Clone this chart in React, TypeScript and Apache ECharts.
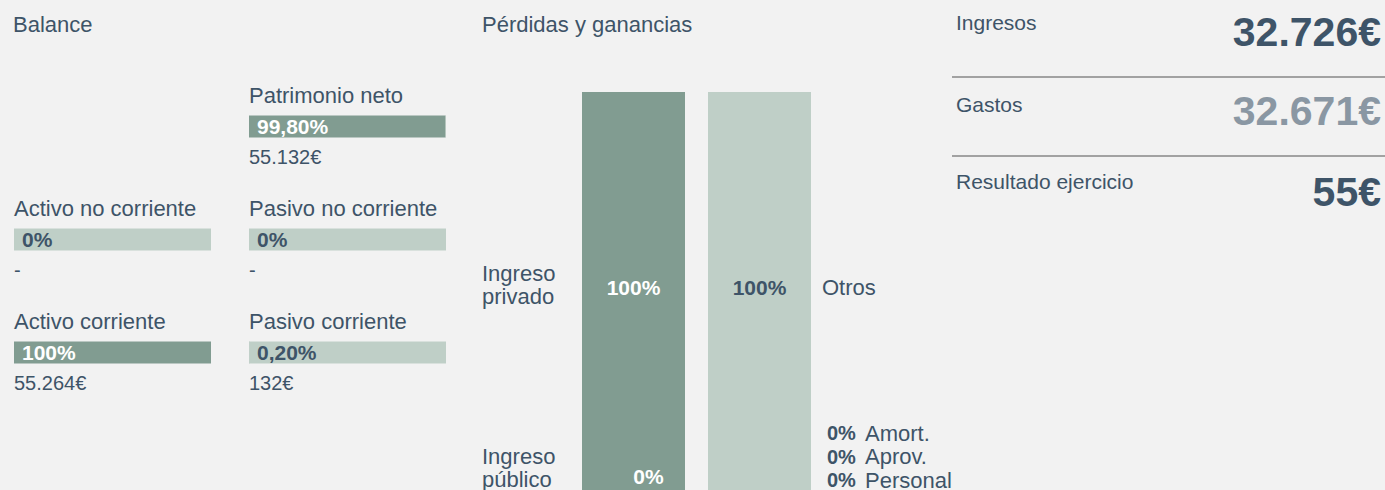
import React, { useEffect, useRef } from "react";
import * as echarts from "echarts";

// ---------- data ----------
const balanceLeftNames = ["", "Activo no corriente", "Activo corriente"];
const balanceLeftPct: (number | null)[] = [null, 0, 100];
const balanceLeftAmount: (number | null)[] = [null, null, 55264];
const balanceRightNames = ["Patrimonio neto", "Pasivo no corriente", "Pasivo corriente"];
const balanceRightPct: (number | null)[] = [99.8, 0, 0.2];
const balanceRightAmount: (number | null)[] = [55132, null, 132];
const balanceRowKeys = ["r0", "r1", "r2"];

const plCategories = ["Ingresos", "Gastos"];
const incomeNames = ["Ingreso\nprivado", "Ingreso\npúblico"];
const incomePct = [100, 0];
const expenseNames = ["Otros", "Amort.", "Aprov.", "Personal"];
const expensePct = [100, 0, 0, 0];

const summaryLabels = ["Ingresos", "Gastos", "Resultado ejercicio"];
const summaryValues = [32726, 32671, 55];

// ---------- styles ----------
const BG = "#f2f2f2";
const DARK = "#819c91";
const LIGHT = "#bfcfc7";
const TEXT = "#3e5468";
const MUTED = "#8a97a3";
const FONT = '"Liberation Sans", Arial, sans-serif';

const fmtPct = (v: number) =>
  Number.isInteger(v) ? `${v}%` : v.toFixed(2).replace(".", ",") + "%";
const fmtEur = (v: number | null) =>
  v == null ? "-" : String(v).replace(/\B(?=(\d{3})+(?!\d))/g, ".") + "€";

function balanceSeries(gi: number, names: string[], pcts: (number | null)[], amounts: (number | null)[]) {
  const common = {
    type: "bar",
    xAxisIndex: gi,
    yAxisIndex: gi,
    barWidth: 22,
    barGap: "-100%",
    silent: true,
  };
  const full = pcts.map((p, i) => (names[i] ? 100 : "-"));
  const transparent = { color: "rgba(0,0,0,0)" };
  return [
    {
      ...common,
      stack: "s" + gi,
      itemStyle: { color: DARK },
      data: pcts.map((p) => (p == null ? "-" : p)),
    },
    {
      ...common,
      stack: "s" + gi,
      itemStyle: { color: LIGHT },
      data: pcts.map((p) => (p == null ? "-" : 100 - p)),
    },
    {
      ...common,
      stack: "p" + gi,
      itemStyle: transparent,
      data: full.map((v, i) =>
        v === "-"
          ? "-"
          : {
              value: v,
              label: {
                show: true,
                formatter: fmtPct(pcts[i] as number),
                color: (pcts[i] as number) >= 50 ? "#ffffff" : TEXT,
              },
            }
      ),
      label: {
        position: [8, 11],
        align: "left",
        verticalAlign: "middle",
        fontFamily: FONT,
        fontSize: 21,
        fontWeight: "bold",
      },
    },
    {
      ...common,
      stack: "n" + gi,
      itemStyle: transparent,
      data: full.map((v, i) =>
        v === "-" ? "-" : { value: v, label: { show: true, formatter: names[i] } }
      ),
      label: {
        position: [0, -20],
        align: "left",
        verticalAlign: "middle",
        fontFamily: FONT,
        fontSize: 22,
        color: TEXT,
      },
    },
    {
      ...common,
      stack: "a" + gi,
      itemStyle: transparent,
      data: full.map((v, i) =>
        v === "-" ? "-" : { value: v, label: { show: true, formatter: fmtEur(amounts[i]) } }
      ),
      label: {
        position: [0, 41],
        align: "left",
        verticalAlign: "middle",
        fontFamily: FONT,
        fontSize: 20,
        color: TEXT,
      },
    },
  ];
}

export default function App() {
  const ref = useRef<HTMLDivElement>(null);

  useEffect(() => {
    document.body.style.margin = "0";
    document.body.style.background = BG;
    if (!ref.current) return;
    const chart = echarts.init(ref.current, undefined, { renderer: "svg" });

    const plBar = {
      type: "bar",
      xAxisIndex: 2,
      yAxisIndex: 2,
      stack: "pl",
      barWidth: 103,
      silent: true,
    };
    const bigLabel = {
      fontFamily: FONT,
      fontSize: 21,
      fontWeight: "bold",
    };

    const plSeries = [
      {
        ...plBar,
        name: incomeNames[1],
        itemStyle: { color: DARK },
        data: [incomePct[1], "-"],
        label: {
          show: true,
          position: "insideBottom",
          offset: [15, 2],
          formatter: fmtPct(incomePct[1]),
          color: "#ffffff",
          ...bigLabel,
        },
      },
      {
        ...plBar,
        name: incomeNames[0],
        itemStyle: { color: DARK },
        data: [incomePct[0], "-"],
        label: {
          show: true,
          position: "inside",
          offset: [0, -4],
          formatter: fmtPct(incomePct[0]),
          color: "#ffffff",
          ...bigLabel,
        },
      },
      ...expenseNames.slice(1).map((n, k) => ({
        ...plBar,
        name: n,
        itemStyle: { color: LIGHT },
        data: ["-", expensePct[k + 1]],
      })),
      {
        ...plBar,
        name: expenseNames[0],
        itemStyle: { color: LIGHT },
        data: ["-", expensePct[0]],
        label: {
          show: true,
          position: "inside",
          offset: [0, -4],
          formatter: fmtPct(expensePct[0]),
          color: TEXT,
          ...bigLabel,
        },
      },
    ];

    const txt = (text: string, x: number, y: number, extra: any = {}) => ({
      type: "text",
      x,
      y,
      silent: true,
      style: {
        text,
        fill: TEXT,
        fontFamily: FONT,
        fontSize: 22,
        align: "left",
        verticalAlign: "middle",
        ...extra,
      },
    });

    const graphics: any[] = [
      txt("Balance", 13, 24),
      txt("Pérdidas y ganancias", 482, 24),
      txt(incomeNames[0], 482, 285, { lineHeight: 23 }),
      txt(incomeNames[1], 482, 468, { lineHeight: 23 }),
      txt(expenseNames[0], 822, 287),
    ];
    expenseNames.slice(1).forEach((n, k) => {
      const y = 433 + k * 23.5;
      graphics.push(txt(fmtPct(expensePct[k + 1]), 827, y, { fontSize: 20, fontWeight: "bold" }));
      graphics.push(txt(n, 865, y));
    });

    const labelY = [22.5, 104.5, 181.5];
    const valueY = [31.5, 110.5, 192];
    summaryLabels.forEach((l, i) => {
      graphics.push(txt(l, 956, labelY[i], { fontSize: 21 }));
      graphics.push(
        txt(fmtEur(summaryValues[i]), 1381, valueY[i], {
          fontSize: 41,
          fontWeight: "bold",
          align: "right",
          fill: i === 1 ? MUTED : TEXT,
        })
      );
    });
    [77, 156].forEach((y) =>
      graphics.push({
        type: "line",
        silent: true,
        shape: { x1: 952, y1: y, x2: 1385, y2: y },
        style: { stroke: "#525252", lineWidth: 1 },
      })
    );

    chart.setOption({
      animation: false,
      backgroundColor: BG,
      grid: [
        { left: 14, width: 197, top: 70, height: 339 },
        { left: 249, width: 197, top: 70, height: 339 },
        { left: 570.5, width: 252, top: 92, height: 408 },
      ],
      xAxis: [
        { type: "value", gridIndex: 0, min: 0, max: 100, show: false },
        { type: "value", gridIndex: 1, min: 0, max: 100, show: false },
        { type: "category", gridIndex: 2, data: plCategories, show: false },
      ],
      yAxis: [
        { type: "category", gridIndex: 0, data: balanceRowKeys, inverse: true, show: false },
        { type: "category", gridIndex: 1, data: balanceRowKeys, inverse: true, show: false },
        { type: "value", gridIndex: 2, min: 0, max: 100, show: false },
      ],
      series: [
        ...balanceSeries(0, balanceLeftNames, balanceLeftPct, balanceLeftAmount),
        ...balanceSeries(1, balanceRightNames, balanceRightPct, balanceRightAmount),
        ...plSeries,
      ],
      graphic: graphics,
    });

    return () => chart.dispose();
  }, []);

  return (
    <div
      ref={ref}
      style={{ position: "fixed", left: 0, top: 0, width: 1385, height: 490, background: BG }}
    />
  );
}
